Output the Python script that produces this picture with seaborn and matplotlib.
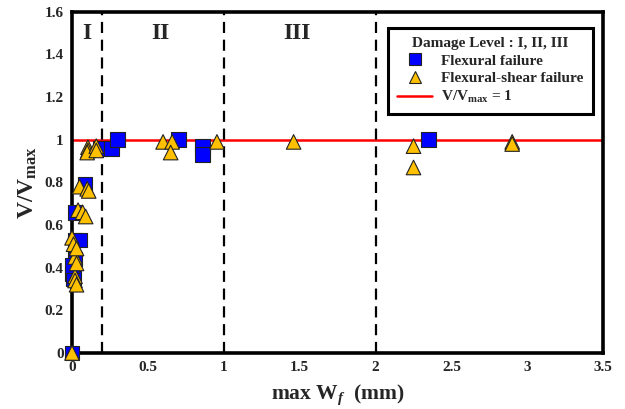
import matplotlib
matplotlib.use("Agg")
import matplotlib.pyplot as plt
from matplotlib.lines import Line2D
from matplotlib.ticker import FuncFormatter
import pandas as pd
import seaborn as sns

# Flexural failure specimens: crack width (mm) and normalised load
flex_w = [0.0, 0.0, 0.01, 0.02, 0.0, 0.02, 0.05, 0.02, 0.085, 0.185, 0.26, 0.30, 0.70, 0.86, 0.86, 2.35]
flex_v = [0.0, 0.37, 0.35, 0.44, 0.41, 0.53, 0.53, 0.66, 0.79, 0.96, 0.96, 1.00, 1.00, 0.97, 0.93, 1.00]

# Flexural-shear failure specimens
fs_w = [0.0, 0.02, 0.02, 0.03, 0.02, 0.03, 0.0, 0.01, 0.03, 0.04, 0.07, 0.09,
        0.05, 0.10, 0.11, 0.105, 0.105, 0.10, 0.16, 0.16, 0.60, 0.66, 0.65,
        0.955, 1.46, 2.25, 2.25, 2.90, 2.90]
fs_v = [0.0, 0.36, 0.34, 0.32, 0.45, 0.42, 0.54, 0.51, 0.49, 0.67, 0.66, 0.64,
        0.78, 0.77, 0.76, 0.965, 0.95, 0.94, 0.97, 0.95, 0.99, 0.99, 0.94,
        0.99, 0.99, 0.97, 0.87, 0.99, 0.98]

# Damage level boundaries (mm) and labels
level_bounds = [0.2, 1.0, 2.0]
level_labels = ["I", "II", "III"]
level_label_x = [0.10, 0.58, 1.48]

x_ticks = [0, 0.5, 1, 1.5, 2, 2.5, 3, 3.5]
y_ticks = [0, 0.2, 0.4, 0.6, 0.8, 1.0, 1.2, 1.4, 1.6]

df = pd.DataFrame({
    "w": flex_w + fs_w,
    "v": flex_v + fs_v,
    "mode": ["Flexural failure"] * len(flex_w) + ["Flexural-shear failure"] * len(fs_w),
})

sns.set_theme(style="white")
plt.rcParams["font.family"] = ["Liberation Serif", "DejaVu Serif"]
plt.rcParams["font.weight"] = "bold"
plt.rcParams["mathtext.fontset"] = "custom"
plt.rcParams["mathtext.rm"] = "Liberation Serif:bold"
plt.rcParams["mathtext.bf"] = "Liberation Serif:bold"
plt.rcParams["mathtext.it"] = "Liberation Serif:bold:italic"

fig = plt.figure(figsize=(6.25, 4.09), dpi=100)
ax = fig.add_axes([0.1152, 0.137, 0.85, 0.834])

blue = "#0000FF"
gold = "#FFC000"

ax.axhline(1.0, color="#FF0000", lw=1.8, zorder=1)
for b in level_bounds:
    ax.axvline(b, color="black", lw=1.6, ls=(0, (5, 3)), zorder=1)

sns.scatterplot(data=df, x="w", y="v", hue="mode", style="mode",
                palette={"Flexural failure": blue, "Flexural-shear failure": gold},
                markers={"Flexural failure": "s", "Flexural-shear failure": "^"},
                s=110, edgecolor="#222222", linewidth=0.8, legend=False,
                ax=ax, zorder=3, clip_on=False)

for lab, lx in zip(level_labels, level_label_x):
    ax.text(lx, 1.5, lab, ha="center", va="center", fontsize=17, fontweight="bold")

ax.set_xlim(0, 3.5)
ax.set_ylim(0, 1.6)
ax.set_xticks(x_ticks)
ax.set_yticks(y_ticks)
ax.xaxis.set_major_formatter(FuncFormatter(lambda v, p: f"{v:g}"))
ax.yaxis.set_major_formatter(FuncFormatter(lambda v, p: f"{v:g}"))
ax.tick_params(length=0, labelsize=11, pad=6)
for lbl in ax.get_xticklabels() + ax.get_yticklabels():
    lbl.set_fontweight("bold")

ax.set_xlabel(r"max W$_{\mathit{f}}$  (mm)", fontsize=15.5, fontweight="bold", labelpad=6)
ax.set_ylabel(r"V/V$_{\mathbf{max}}$", fontsize=17, fontweight="bold", labelpad=4)

for sp in ax.spines.values():
    sp.set_color("black")
    sp.set_linewidth(2.6)

handles = [
    Line2D([], [], ls="none", marker="s", markersize=8, markerfacecolor=blue,
           markeredgecolor="#222222", markeredgewidth=0.8),
    Line2D([], [], ls="none", marker="^", markersize=8, markerfacecolor=gold,
           markeredgecolor="#222222", markeredgewidth=0.8),
    Line2D([], [], color="#FF0000", lw=1.8),
]
leg = ax.legend(handles, ["Flexural failure", "Flexural-shear failure", r"V/V$_{\mathbf{max}}$ = 1"],
                title="Damage Level : I, II, III", loc="upper right",
                bbox_to_anchor=(0.995, 0.975), fontsize=11, title_fontsize=11,
                frameon=True, fancybox=False, framealpha=1, edgecolor="black",
                borderpad=0.6, labelspacing=0.25, handlelength=2.3, handletextpad=0.6)
leg.get_frame().set_linewidth(2.2)
leg.get_title().set_fontweight("bold")
for t in leg.get_texts():
    t.set_fontweight("bold")

fig.savefig("out.png", dpi=100)
